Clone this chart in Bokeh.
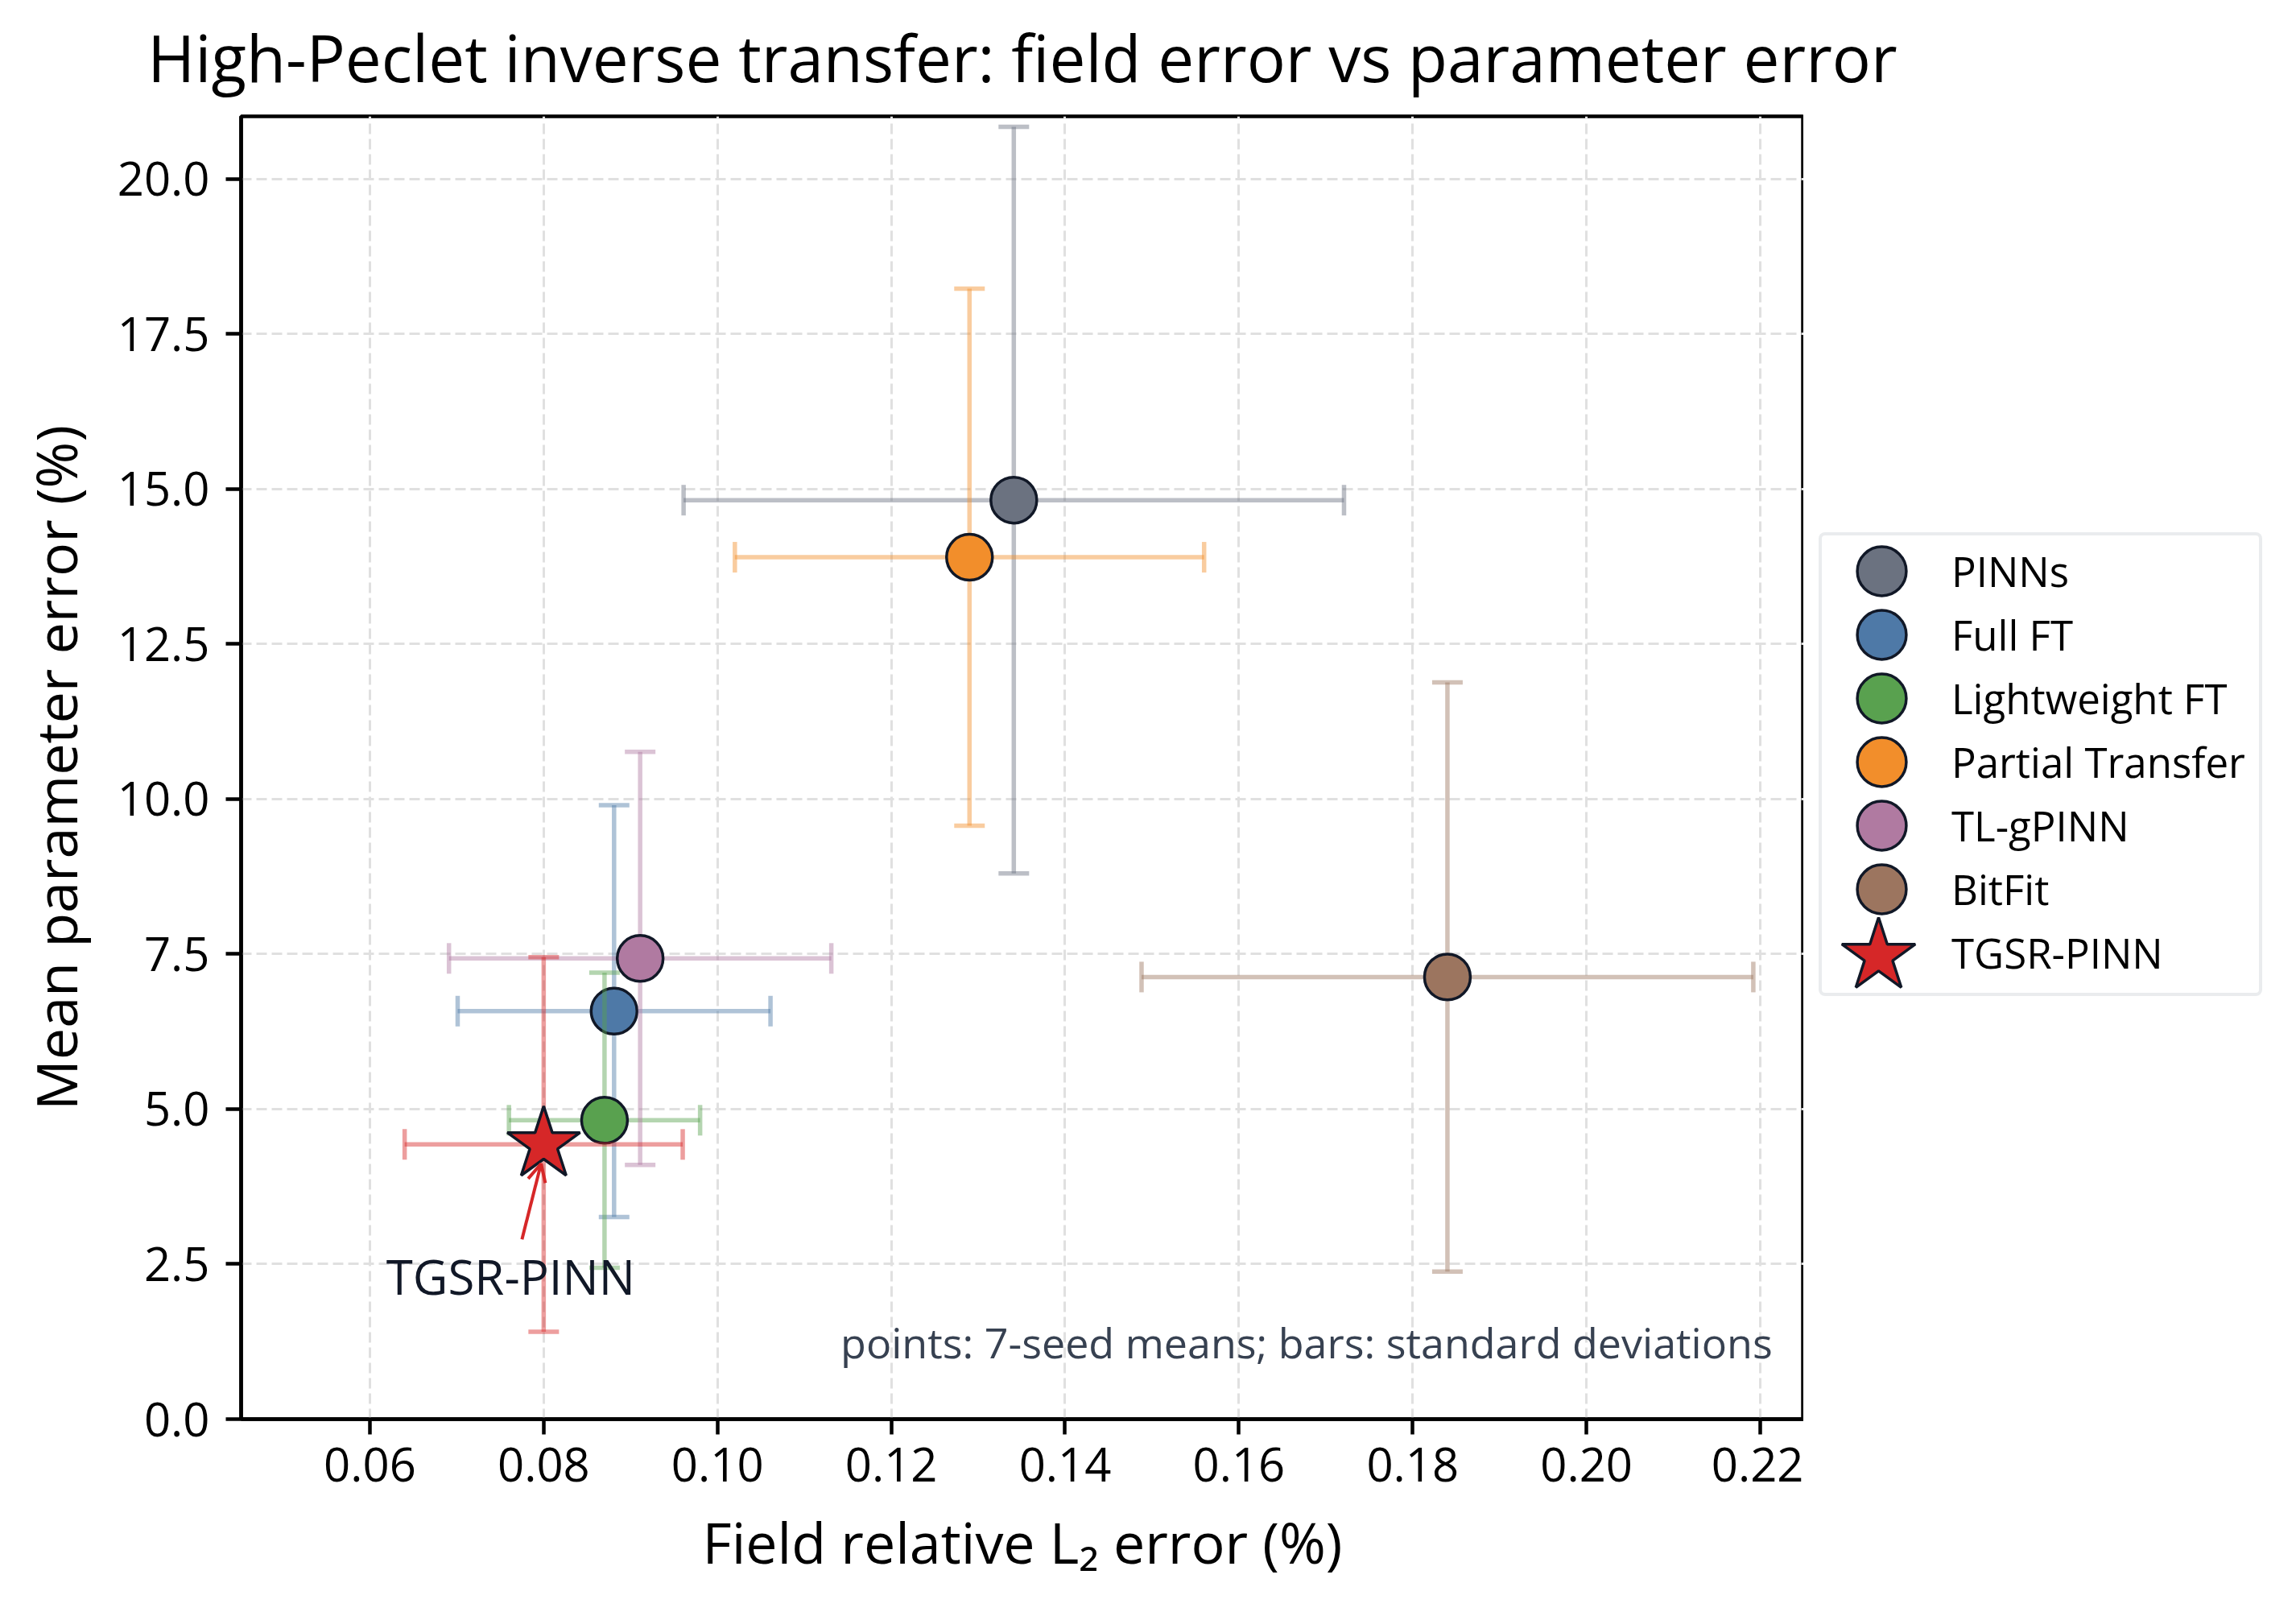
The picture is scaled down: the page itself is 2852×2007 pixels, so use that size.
import numpy as np
from bokeh.plotting import figure
from bokeh.layouts import row, column
from bokeh.models import (ColumnDataSource, Legend, LegendItem, Label, Arrow,
                          OpenHead, FixedTicker, Range1d)
from bokeh.embed import file_html
from bokeh.resources import INLINE

# ---------------- data ----------------
methods = ["PINNs", "Full FT", "Lightweight FT", "Partial Transfer",
           "TL-gPINN", "BitFit", "TGSR-PINN"]
field_mean = [0.1341, 0.0881, 0.0870, 0.1290, 0.0911, 0.1840, 0.0800]
field_std = [0.0380, 0.0180, 0.0110, 0.0270, 0.0220, 0.0352, 0.0160]
param_mean = [14.82, 6.58, 4.82, 13.90, 7.43, 7.13, 4.43]
param_std = [6.02, 3.32, 2.38, 4.33, 3.33, 4.75, 3.02]
colors = ["#6b7280", "#4e79a7", "#59a14f", "#f28e2b", "#b07aa1", "#9c755f", "#d62728"]
markers = ["circle"] * 6 + ["star"]

x_ticks = [0.06, 0.08, 0.10, 0.12, 0.14, 0.16, 0.18, 0.20, 0.22]
x_tick_labels = ["0.06", "0.08", "0.10", "0.12", "0.14", "0.16", "0.18", "0.20", "0.22"]
y_ticks = [0.0, 2.5, 5.0, 7.5, 10.0, 12.5, 15.0, 17.5, 20.0]
y_tick_labels = ["0.0", "2.5", "5.0", "7.5", "10.0", "12.5", "15.0", "17.5", "20.0"]

title_text = "High-Peclet inverse transfer: field error vs parameter error"
x_label = "Field relative L\u2082 error (%)"
y_label = "Mean parameter error (%)"
note_text = "points: 7-seed means; bars: standard deviations"
annot_label = "TGSR-PINN"
annot_text_xy = (0.0762, 2.31)
annot_arrow_from = (0.0775, 2.90)
annot_arrow_to = (0.0797, 4.12)

FONT = "Open Sans"
EDGE = "#111827"
FRAME_W, FRAME_H = 1941, 1618
LEFT, BOTTOM = 299, 245
TITLE_H = 136          # height of the title strip
TOP_IN = 8             # border above the axes frame inside the main canvas
LEGEND_W = 612
MAIN_H = TOP_IN + FRAME_H + BOTTOM

# ---------------- title strip ----------------
tfig = figure(width=LEFT + FRAME_W + LEGEND_W, height=TITLE_H,
              min_border_left=LEFT, min_border_right=LEGEND_W,
              min_border_top=TITLE_H - 10, min_border_bottom=0,
              x_range=Range1d(0, 1), y_range=Range1d(0, 1),
              x_axis_location=None, y_axis_location=None,
              output_backend="svg", toolbar_location=None, title=title_text)
tfig.outline_line_color = None
tfig.xgrid.visible = False
tfig.ygrid.visible = False
tfig.background_fill_color = "white"
tfig.border_fill_color = "white"
tfig.title.text_font = FONT
tfig.title.text_font_size = "80px"
tfig.title.text_font_style = "normal"
tfig.title.text_color = "black"
tfig.title.align = "center"
tfig.title.standoff = 3

# ---------------- main axes ----------------
p = figure(frame_width=FRAME_W, frame_height=FRAME_H,
           min_border_left=LEFT, min_border_top=TOP_IN, min_border_bottom=BOTTOM,
           min_border_right=0,
           x_range=Range1d(0.04518, 0.2250), y_range=Range1d(0.0, 21.01),
           output_backend="svg", toolbar_location=None)
p.background_fill_color = "white"
p.border_fill_color = "white"
p.outline_line_color = "black"
p.outline_line_width = 4.5

for ax, ticks, labels in ((p.xaxis[0], x_ticks, x_tick_labels), (p.yaxis[0], y_ticks, y_tick_labels)):
    ax.ticker = FixedTicker(ticks=ticks)
    ax.major_label_overrides = {t: l for t, l in zip(ticks, labels)}
    ax.major_label_text_font = FONT
    ax.major_label_text_font_size = "58px"
    ax.major_label_text_color = "black"
    ax.axis_label_text_font = FONT
    ax.axis_label_text_font_size = "70px"
    ax.axis_label_text_font_style = "normal"
    ax.axis_label_text_color = "black"
    ax.axis_line_width = 4.5
    ax.axis_line_color = "black"
    ax.major_tick_line_width = 4.5
    ax.major_tick_line_color = "black"
    ax.major_tick_out = 19
    ax.major_tick_in = 0
    ax.minor_tick_line_color = None
p.xaxis.axis_label = x_label
p.yaxis.axis_label = y_label
p.xaxis.major_label_standoff = 16
p.yaxis.major_label_standoff = 20
p.xaxis.axis_label_standoff = 24
p.yaxis.axis_label_standoff = 26

for g, ticks in ((p.xgrid[0], x_ticks), (p.ygrid[0], y_ticks)):
    g.ticker = FixedTicker(ticks=ticks)
    g.grid_line_color = "#e0e0e0"
    g.grid_line_width = 3
    g.grid_line_dash = "13 6"

# ---------------- legend canvas (right of the axes) ----------------
lp = figure(width=LEGEND_W, height=MAIN_H, x_range=Range1d(0, 1), y_range=Range1d(1000, 1001),
            x_axis_location=None, y_axis_location=None,
            min_border_left=0, min_border_right=0,
            min_border_top=TOP_IN, min_border_bottom=BOTTOM,
            output_backend="svg", toolbar_location=None)
lp.outline_line_color = None
lp.background_fill_color = "white"
lp.border_fill_color = "white"
lp.xgrid.visible = False
lp.ygrid.visible = False

fm = np.array(field_mean)
fs = np.array(field_std)
pm = np.array(param_mean)
ps = np.array(param_std)

items = []
star_item_renderer = None
for i, name in enumerate(methods):
    src = ColumnDataSource(dict(
        x=[fm[i]], y=[pm[i]],
        xl=[fm[i] - fs[i]], xr=[fm[i] + fs[i]],
        yl=[pm[i] - ps[i]], yu=[pm[i] + ps[i]],
    ))
    c = colors[i]
    eb = dict(line_color=c, line_alpha=0.45, line_width=5.5)
    p.segment(x0="xl", y0="y", x1="xr", y1="y", source=src, **eb)
    p.segment(x0="x", y0="yl", x1="x", y1="yu", source=src, **eb)
    p.scatter(x="xl", y="y", source=src, marker="dash", size=38, angle=np.pi / 2, **eb)
    p.scatter(x="xr", y="y", source=src, marker="dash", size=38, angle=np.pi / 2, **eb)
    p.scatter(x="x", y="yl", source=src, marker="dash", size=38, **eb)
    p.scatter(x="x", y="yu", source=src, marker="dash", size=38, **eb)
    style = dict(fill_color=c, line_color=EDGE, line_width=3.5)
    if markers[i] == "star":
        p.scatter(x="x", y="y", source=src, marker="star", size=95, **style)
        lr = lp.scatter(x="x", y="y", source=src, marker="star", size=95, **style)
        star_item_renderer = lr
    else:
        p.ellipse(x="x", y="y", source=src, width=57, height=57,
                  width_units="screen", height_units="screen", **style)
        lr = lp.ellipse(x="x", y="y", source=src, width=57, height=57,
                        width_units="screen", height_units="screen", **style)
    items.append(LegendItem(label=name, renderers=[lr]))

# annotation for TGSR-PINN
p.add_layout(Arrow(end=OpenHead(size=22, line_color="#d62728", line_width=4),
                   x_start=annot_arrow_from[0], y_start=annot_arrow_from[1],
                   x_end=annot_arrow_to[0], y_end=annot_arrow_to[1],
                   line_color="#d62728", line_width=4))
p.add_layout(Label(x=annot_text_xy[0], y=annot_text_xy[1], text=annot_label,
                   text_align="center", text_baseline="alphabetic",
                   text_font=FONT, text_font_size="60px", text_color=EDGE))

p.add_layout(Label(x=0.98 * FRAME_W, y=61, x_units="screen", y_units="screen", text=note_text,
                   text_align="right", text_baseline="bottom",
                   text_font=FONT, text_font_size="52px", text_color="#374151"))

legend = Legend(items=items, location=(19, 525), orientation="vertical")
legend.label_text_font = FONT
legend.label_text_font_size = "51px"
legend.label_text_color = "black"
legend.glyph_width = 76
legend.glyph_height = 76
legend.spacing = 3
legend.padding = dict(left=36, right=17, top=6, bottom=12)
legend.label_standoff = 49
legend.label_width = 359
legend.margin = 0
legend.border_line_color = "#d6d9de"
legend.border_line_width = 4
legend.background_fill_color = "white"
legend.background_fill_alpha = 1.0
try:
    legend.border_radius = 8
except Exception:
    pass
lp.add_layout(legend)

# larger star swatch over the TGSR-PINN legend row
star_legend = Legend(items=[LegendItem(label=" ", renderers=[star_item_renderer])],
                     location=(-27, 455), orientation="vertical")
star_legend.glyph_width = 240
star_legend.glyph_height = 240
star_legend.padding = 0
star_legend.margin = 0
star_legend.label_standoff = 0
star_legend.label_width = 1
star_legend.label_text_font_size = "1px"
star_legend.label_text_alpha = 0
star_legend.border_line_color = None
star_legend.background_fill_alpha = 0
lp.add_layout(star_legend)

layout = column(tfig, row(p, lp, spacing=0), spacing=0)
open("out.html", "w").write(file_html(layout, INLINE))
